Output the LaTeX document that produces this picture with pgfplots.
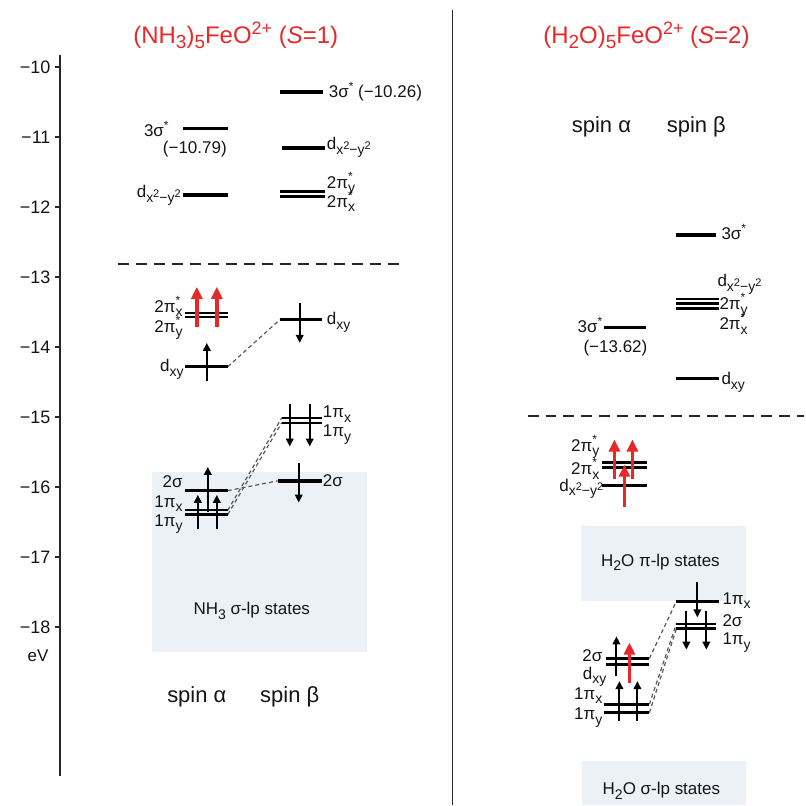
\documentclass[border=0pt]{standalone}
\usepackage{fontspec}
\setmainfont{Liberation Sans}
\usepackage{pgfplots}
\pgfplotsset{compat=1.18}
\usetikzlibrary{arrows.meta}
\definecolor{boxc}{RGB}{236,241,248}
\definecolor{redc}{RGB}{232,40,40}
\definecolor{txt}{RGB}{20,20,20}
\newcommand{\lo}[1]{\raisebox{-4.5pt}{\fontsize{14}{15}\selectfont #1}}
\newcommand{\st}[1]{\rlap{\raisebox{8pt}{\fontsize{12}{12}\selectfont *}}\lo{#1}}
\newcommand{\two}{\raisebox{5pt}{\fontsize{11}{12}\selectfont 2}}
\newcommand{\dxx}{d\raisebox{-4.5pt}{\fontsize{14}{15}\selectfont x\two−y\two}}
\newcommand{\sstar}{\raisebox{7pt}{\fontsize{12}{12}\selectfont *}}
\newcommand{\tlo}[1]{\raisebox{-5pt}{\fontsize{19}{20}\selectfont #1}}
\newcommand{\tup}[1]{\raisebox{9pt}{\fontsize{18}{19}\selectfont #1}}
\tikzset{
  lev/.style={black, line width=3.4pt},
  levd/.style={black, line width=2.4pt},
  arr/.style={black, line width=2pt, -{Triangle[length=8pt,width=7.5pt]}},
  rarr/.style={redc, line width=3.6pt, -{Triangle[length=12pt,width=11pt]}},
  conn/.style={black!65, line width=1.2pt, dash pattern=on 4pt off 3pt},
  sep/.style={black!85, line width=2.4pt, dash pattern=on 11pt off 7pt},
  lab/.style={font=\fontsize{17}{19}\selectfont, text=txt, inner sep=0pt},
  spn/.style={font=\fontsize{22}{24}\selectfont, text=txt, inner sep=0pt, anchor=base},
}
\begin{document}
\begin{tikzpicture}
\begin{axis}[
  scale only axis, width=745pt, height=722pt,
  xmin=60, xmax=805, ymin=-20.13, ymax=-9.83,
  axis x line=none, axis y line*=left,
  y axis line style={-, line width=1.7pt, draw=black!85},
  ytick={-18,-17,...,-10},
  yticklabels={−18,−17,−16,−15,−14,−13,−12,−11,−10},
  tick align=outside, major tick length=5pt,
  tick style={line width=1.5pt, black!85},
  yticklabel style={font=\fontsize{18}{19}\selectfont, text=txt, xshift=-1pt},
  clip=false,
]
% bounding box
\path (axis cs:0,-9.044) rectangle (axis cs:805,-20.54);
% background boxes
\addplot[draw=none, fill=boxc] coordinates {(152,-15.78) (367,-15.78) (367,-18.36) (152,-18.36)} -- cycle;
\addplot[draw=none, fill=boxc] coordinates {(582,-16.56) (747,-16.56) (747,-17.63) (582,-17.63)} -- cycle;
\addplot[draw=none, fill=boxc] coordinates {(583,-19.91) (747,-19.91) (747,-20.54) (583,-20.54)} -- cycle;
% separators
\addplot[sep] coordinates {(118,-12.81) (403,-12.81)};
\addplot[sep] coordinates {(528,-14.98) (805,-14.98)};
\addplot[black!85, line width=1.8pt] coordinates {(453,-9.19) (453,-20.54)};
% connectors left
\addplot[conn] coordinates {(228,-14.28) (280,-13.61)};
\addplot[conn] coordinates {(228,-16.05) (278,-15.91)};
\addplot[conn] coordinates {(228,-16.33) (282,-15.01)};
\addplot[conn] coordinates {(228,-16.39) (282,-15.08)};
% connectors right
\addplot[conn] coordinates {(650,-18.445) (677,-17.63)};
\addplot[conn] coordinates {(650,-19.10) (677,-17.95)};
\addplot[conn] coordinates {(650,-19.22) (677,-18.02)};
% left alpha levels
\addplot[lev] coordinates {(183,-10.88) (228,-10.88)};
\addplot[lev] coordinates {(183,-11.83) (228,-11.83)};
\addplot[levd] coordinates {(185,-13.51) (228,-13.51)};
\addplot[levd] coordinates {(185,-13.57) (228,-13.57)};
\addplot[lev] coordinates {(185,-14.28) (228,-14.28)};
\addplot[levd] coordinates {(185,-16.05) (228,-16.05)};
\addplot[levd] coordinates {(185,-16.33) (228,-16.33)};
\addplot[levd] coordinates {(185,-16.39) (228,-16.39)};
% left beta levels
\addplot[lev] coordinates {(280,-10.36) (323,-10.36)};
\addplot[lev] coordinates {(282,-11.16) (325,-11.16)};
\addplot[levd] coordinates {(280,-11.78) (325,-11.78)};
\addplot[levd] coordinates {(280,-11.85) (325,-11.85)};
\addplot[lev] coordinates {(280,-13.61) (322,-13.61)};
\addplot[levd] coordinates {(282,-15.01) (322,-15.01)};
\addplot[levd] coordinates {(282,-15.08) (322,-15.08)};
\addplot[lev] coordinates {(278,-15.91) (322,-15.91)};
% right beta levels
\addplot[lev] coordinates {(677,-12.40) (717,-12.40)};
\addplot[levd] coordinates {(677,-13.31) (720,-13.31)};
\addplot[levd] coordinates {(677,-13.38) (720,-13.38)};
\addplot[levd] coordinates {(677,-13.45) (720,-13.45)};
\addplot[lev] coordinates {(677,-14.45) (720,-14.45)};
\addplot[lev] coordinates {(677,-17.63) (720,-17.63)};
\addplot[levd] coordinates {(677,-17.95) (717,-17.95)};
\addplot[levd] coordinates {(677,-18.02) (717,-18.02)};
% right alpha levels
\addplot[lev] coordinates {(605,-13.72) (647,-13.72)};
\addplot[levd] coordinates {(603,-15.65) (648,-15.65)};
\addplot[levd] coordinates {(603,-15.72) (648,-15.72)};
\addplot[lev] coordinates {(603,-15.98) (648,-15.98)};
\addplot[levd] coordinates {(607,-18.445) (650,-18.445)};
\addplot[levd] coordinates {(607,-18.53) (650,-18.53)};
\addplot[lev] coordinates {(605,-19.10) (650,-19.10)};
\addplot[lev] coordinates {(605,-19.22) (650,-19.22)};
% arrows left
\addplot[rarr] coordinates {(197,-13.72) (197,-13.14)};
\addplot[rarr] coordinates {(217,-13.72) (217,-13.14)};
\addplot[arr] coordinates {(207,-14.49) (207,-13.94)};
\addplot[arr] coordinates {(198,-16.60) (198,-16.11)};
\addplot[arr] coordinates {(217,-16.60) (217,-16.11)};
\addplot[arr] coordinates {(208,-16.35) (208,-15.71)};
\addplot[arr] coordinates {(300,-13.37) (300,-13.94)};
\addplot[arr] coordinates {(290,-14.81) (290,-15.42)};
\addplot[arr] coordinates {(310,-14.81) (310,-15.42)};
\addplot[arr] coordinates {(299,-15.65) (299,-16.22)};
% arrows right
\addplot[rarr] coordinates {(615,-15.89) (615,-15.32)};
\addplot[rarr] coordinates {(633,-15.89) (633,-15.32)};
\addplot[rarr] coordinates {(625,-16.28) (625,-15.68)};
\addplot[arr] coordinates {(698,-17.36) (698,-17.86)};
\addplot[arr] coordinates {(687,-17.77) (687,-18.32)};
\addplot[arr] coordinates {(707,-17.77) (707,-18.32)};
\addplot[arr] coordinates {(617,-18.70) (617,-18.13)};
\addplot[rarr] coordinates {(630,-18.79) (630,-18.22)};
\addplot[arr] coordinates {(620,-19.34) (620,-18.77)};
\addplot[arr] coordinates {(638,-19.34) (638,-18.77)};
% titles
\node[font=\fontsize{24}{26}\selectfont, text=redc, anchor=base, inner sep=0pt] at (axis cs:236,-9.66) {(NH\tlo{3})\tlo{5}FeO\tup{2+} (\textit{S}=1)};
\node[font=\fontsize{24}{26}\selectfont, text=redc, anchor=base, inner sep=0pt] at (axis cs:647,-9.66) {(H\tlo{2}O)\tlo{5}FeO\tup{2+} (\textit{S}=2)};
% axis unit
\node[lab, anchor=base] at (axis cs:38,-18.49) {eV};
% left labels
\node[lab, anchor=base east] at (axis cs:169,-11.00) {3σ\sstar};
\node[lab, anchor=base] at (axis cs:195,-11.23) {(−10.79)};
\node[lab, anchor=base east] at (axis cs:181,-11.87) {\dxx};
\node[lab, anchor=base west] at (axis cs:329,-10.44) {3σ\sstar\ (−10.26)};
\node[lab, anchor=base west] at (axis cs:327,-11.18) {\dxx};
\node[lab, anchor=base west] at (axis cs:327,-11.73) {2π\st{y}};
\node[lab, anchor=base west] at (axis cs:327,-12.00) {2π\st{x}};
\node[lab, anchor=base east] at (axis cs:183,-13.50) {2π\st{x}};
\node[lab, anchor=base east] at (axis cs:183,-13.79) {2π\st{y}};
\node[lab, anchor=base east] at (axis cs:184,-14.35) {d\lo{xy}};
\node[lab, anchor=base west] at (axis cs:327,-13.68) {d\lo{xy}};
\node[lab, anchor=base west] at (axis cs:323,-15.01) {1π\lo{x}};
\node[lab, anchor=base west] at (axis cs:323,-15.28) {1π\lo{y}};
\node[lab, anchor=base east] at (axis cs:183,-16.01) {2σ};
\node[lab, anchor=base east] at (axis cs:183,-16.29) {1π\lo{x}};
\node[lab, anchor=base east] at (axis cs:183,-16.56) {1π\lo{y}};
\node[lab, anchor=base west] at (axis cs:323,-15.99) {2σ};
\node[lab, anchor=base] at (axis cs:252,-17.82) {NH\lo{3} σ-lp states};
\node[spn] at (axis cs:197,-19.07) {spin α};
\node[spn] at (axis cs:290,-19.07) {spin β};
% right labels
\node[spn] at (axis cs:602,-10.93) {spin α};
\node[spn] at (axis cs:697,-10.93) {spin β};
\node[lab, anchor=base west] at (axis cs:722,-12.47) {3σ\sstar};
\node[lab, anchor=base west] at (axis cs:718,-13.14) {\dxx};
\node[lab, anchor=base west] at (axis cs:720,-13.47) {2π\st{y}};
\node[lab, anchor=base west] at (axis cs:720,-13.75) {2π\st{x}};
\node[lab, anchor=base east] at (axis cs:603,-13.79) {3σ\sstar};
\node[lab, anchor=base] at (axis cs:616,-14.08) {(−13.62)};
\node[lab, anchor=base west] at (axis cs:722,-14.54) {d\lo{xy}};
\node[lab, anchor=base east] at (axis cs:600,-15.49) {2π\st{y}};
\node[lab, anchor=base east] at (axis cs:600,-15.82) {2π\st{x}};
\node[lab, anchor=base east] at (axis cs:604,-16.06) {\dxx};
\node[lab, anchor=base] at (axis cs:661,-17.13) {H\lo{2}O π-lp states};
\node[lab, anchor=base west] at (axis cs:723,-17.67) {1π\lo{x}};
\node[lab, anchor=base west] at (axis cs:723,-17.99) {2σ};
\node[lab, anchor=base west] at (axis cs:723,-18.25) {1π\lo{y}};
\node[lab, anchor=base east] at (axis cs:603,-18.49) {2σ};
\node[lab, anchor=base east] at (axis cs:607,-18.74) {d\lo{xy}};
\node[lab, anchor=base east] at (axis cs:603,-19.03) {1π\lo{x}};
\node[lab, anchor=base east] at (axis cs:603,-19.32) {1π\lo{y}};
\node[lab, anchor=base] at (axis cs:662,-20.39) {H\lo{2}O σ-lp states};
\end{axis}
\end{tikzpicture}
\end{document}
